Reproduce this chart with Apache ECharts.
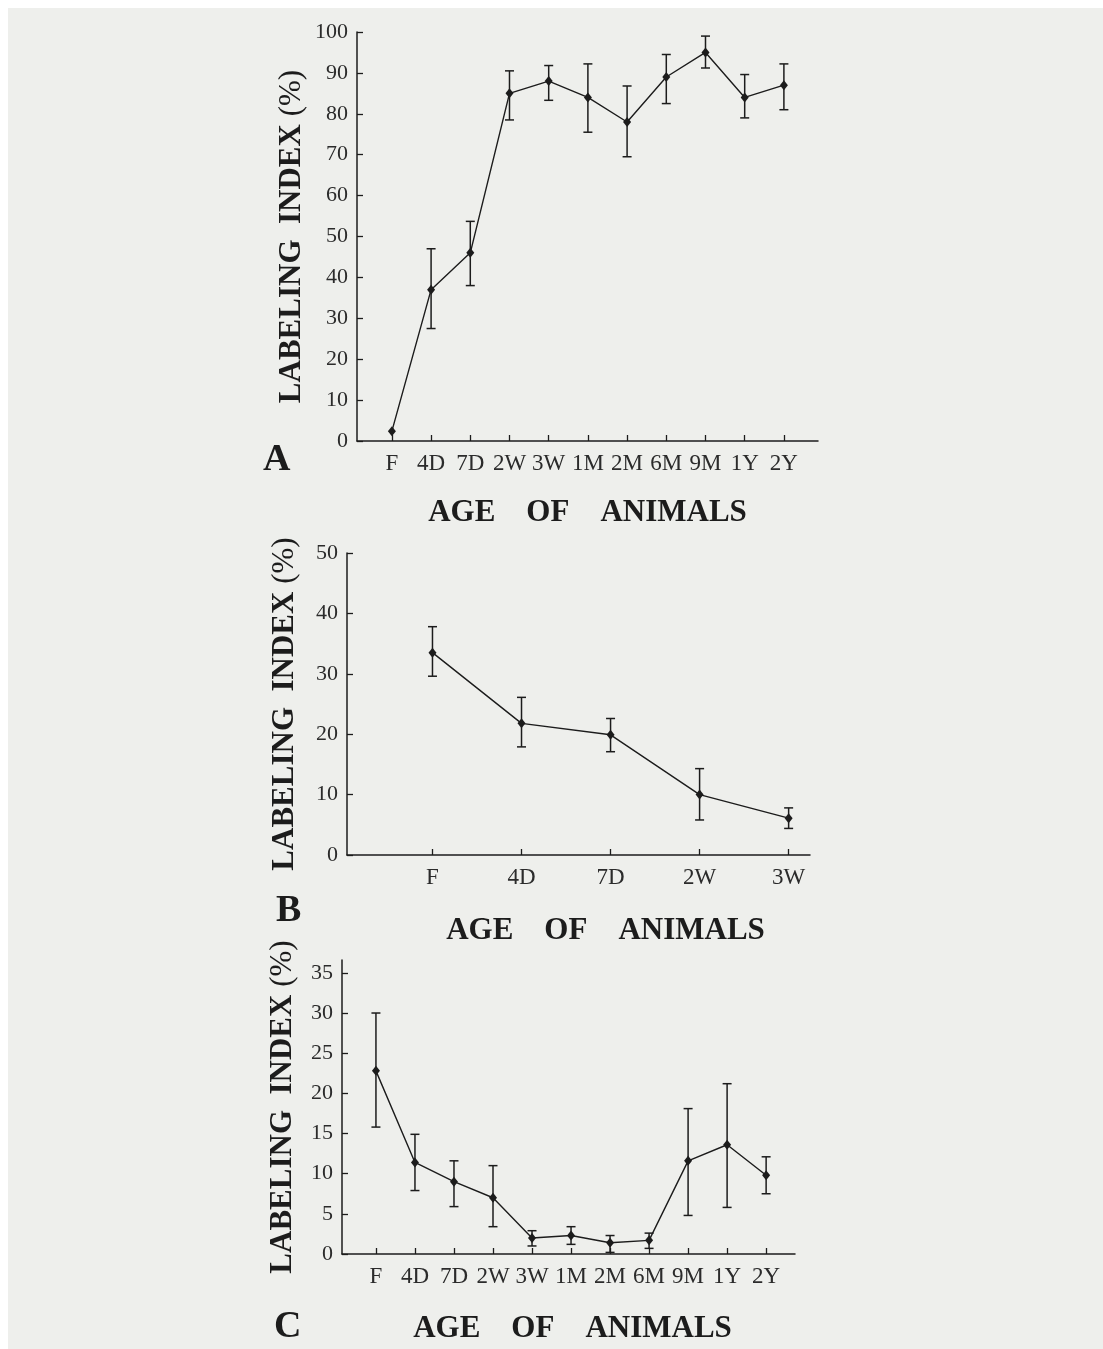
<!DOCTYPE html>
<html>
<head>
<meta charset="utf-8">
<script src="https://cdn.jsdelivr.net/npm/echarts@6/dist/echarts.min.js"></script>
<style>
  html, body { margin: 0; padding: 0; background: #ffffff; overflow: hidden; }
  #paper { position: absolute; left: 8px; top: 8px; width: 1095px; height: 1341px; background: #eeefec; }
  #chart { position: absolute; left: 0; top: 0; width: 1103px; height: 1349px; }
</style>
</head>
<body>
<div id="paper"></div>
<div id="chart"></div>
<script>
// ---- Panel A ----
const catsA = ['F', '4D', '7D', '2W', '3W', '1M', '2M', '6M', '9M', '1Y', '2Y'];
const meanA = [2.4, 37, 46, 85, 88, 84, 78, 89, 95, 84, 87];
const lowA  = [null, 27.5, 38, 78.5, 83.3, 75.5, 69.5, 82.5, 91.2, 79, 81];
const highA = [null, 47, 53.7, 90.5, 91.8, 92.2, 86.8, 94.5, 99, 89.6, 92.2];
const ticksA = [0, 10, 20, 30, 40, 50, 60, 70, 80, 90, 100];

// ---- Panel B ----
const catsB = ['F', '4D', '7D', '2W', '3W'];
const meanB = [33.5, 21.8, 19.9, 10, 6.1];
const lowB  = [29.6, 17.9, 17.1, 5.8, 4.4];
const highB = [37.8, 26.1, 22.6, 14.3, 7.8];
const ticksB = [0, 10, 20, 30, 40, 50];

// ---- Panel C ----
const catsC = ['F', '4D', '7D', '2W', '3W', '1M', '2M', '6M', '9M', '1Y', '2Y'];
const meanC = [22.8, 11.4, 9.0, 7.0, 2.0, 2.3, 1.4, 1.7, 11.6, 13.6, 9.8];
const lowC  = [15.8, 7.9, 5.9, 3.4, 1.0, 1.2, 0.2, 0.7, 4.8, 5.8, 7.5];
const highC = [30.0, 14.9, 11.6, 11.0, 2.9, 3.4, 2.3, 2.6, 18.1, 21.2, 12.1];
const ticksC = [0, 5, 10, 15, 20, 25, 30, 35];

const yTitle = '{b|LABELING  INDEX} {r|(%)}';
const xTitle = 'AGE    OF    ANIMALS';
const panelLetters = ['A', 'B', 'C'];

const INK = '#1c1c1c';
const LABEL = '#2b2b2b';
const SERIF = '"Liberation Serif", "DejaVu Serif", serif';

const chart = echarts.init(document.getElementById('chart'), null, { renderer: 'canvas' });

function idx(arr) { return arr.map((_, i) => i); }

function xAxisDef(gi, cats, min, max, nameGap, namePad) {
  return {
    type: 'value', gridIndex: gi, min: min, max: max,
    axisLine: { show: true, onZero: false, lineStyle: { color: INK, width: 1.5 } },
    axisTick: { show: true, inside: true, length: 6, customValues: idx(cats), lineStyle: { color: INK, width: 1.3 } },
    axisLabel: { customValues: idx(cats), formatter: v => cats[Math.round(v)], color: LABEL,
                 fontFamily: SERIF, fontSize: 23, margin: 11 },
    splitLine: { show: false },
    name: xTitle, nameLocation: 'middle', nameGap: nameGap,
    nameTextStyle: { fontFamily: SERIF, fontSize: 31, fontWeight: 'bold', color: INK, padding: namePad }
  };
}

function yAxisDef(gi, ticks, max, nameGap) {
  return {
    type: 'value', gridIndex: gi, min: 0, max: max,
    axisLine: { show: true, onZero: false, lineStyle: { color: INK, width: 1.5 } },
    axisTick: { show: true, inside: true, length: 6, customValues: ticks, lineStyle: { color: INK, width: 1.3 } },
    axisLabel: { customValues: ticks, color: LABEL, fontFamily: SERIF, fontSize: 22, margin: 9 },
    splitLine: { show: false },
    name: yTitle, nameLocation: 'middle', nameRotate: 90, nameGap: nameGap,
    nameTextStyle: {
      fontFamily: SERIF, fontSize: 31, color: INK,
      rich: {
        b: { fontFamily: SERIF, fontSize: 31, fontWeight: 'bold', color: INK },
        r: { fontFamily: SERIF, fontSize: 31, fontWeight: 'normal', color: INK }
      }
    }
  };
}

function lineSeries(gi, means) {
  return {
    type: 'line', xAxisIndex: gi, yAxisIndex: gi,
    data: means.map((v, i) => [i, v]),
    symbol: 'diamond', symbolSize: [8, 10],
    itemStyle: { color: INK },
    lineStyle: { color: INK, width: 1.4 },
    z: 3
  };
}

function errSeries(gi, lows, highs) {
  const data = [];
  lows.forEach((lo, i) => { if (lo != null && highs[i] != null) data.push([i, lo, highs[i]]); });
  return {
    type: 'custom', xAxisIndex: gi, yAxisIndex: gi,
    data: data,
    encode: { x: 0, y: [1, 2] },
    renderItem: function (params, api) {
      const x = api.value(0);
      const pLo = api.coord([x, api.value(1)]);
      const pHi = api.coord([x, api.value(2)]);
      const w = 4.5;
      const st = { stroke: INK, lineWidth: 1.5 };
      return {
        type: 'group',
        children: [
          { type: 'line', shape: { x1: pLo[0], y1: pLo[1], x2: pHi[0], y2: pHi[1] }, style: st },
          { type: 'line', shape: { x1: pHi[0] - w, y1: pHi[1], x2: pHi[0] + w, y2: pHi[1] }, style: st },
          { type: 'line', shape: { x1: pLo[0] - w, y1: pLo[1], x2: pLo[0] + w, y2: pLo[1] }, style: st }
        ]
      };
    },
    z: 2
  };
}

const letterPos = [[277, 461], [290, 912], [288, 1328]];

const option = {
  backgroundColor: 'transparent',
  animation: false,
  grid: [
    { left: 357, top: 32, width: 461, height: 409 },
    { left: 347, top: 553, width: 463, height: 302 },
    { left: 342, top: 960, width: 453, height: 294 }
  ],
  xAxis: [
    xAxisDef(0, catsA, -0.89, 10.87, 56, [0, 0, 0, 0]),
    xAxisDef(1, catsB, -0.96, 4.24, 60, [0, 0, 0, 54]),
    xAxisDef(2, catsC, -0.87, 10.74, 59, [0, 0, 0, 8])
  ],
  yAxis: [
    yAxisDef(0, ticksA, 100, 50),
    yAxisDef(1, ticksB, 50, 47),
    yAxisDef(2, ticksC, 36.6, 44)
  ],
  series: [
    errSeries(0, lowA, highA), lineSeries(0, meanA),
    errSeries(1, lowB, highB), lineSeries(1, meanB),
    errSeries(2, lowC, highC), lineSeries(2, meanC)
  ],
  graphic: panelLetters.map((t, i) => ({
    type: 'text', left: letterPos[i][0] - 14, top: letterPos[i][1] - 20,
    style: { text: t, font: 'bold 38px ' + SERIF, fill: INK }
  }))
};

chart.setOption(option);
</script>
</body>
</html>
